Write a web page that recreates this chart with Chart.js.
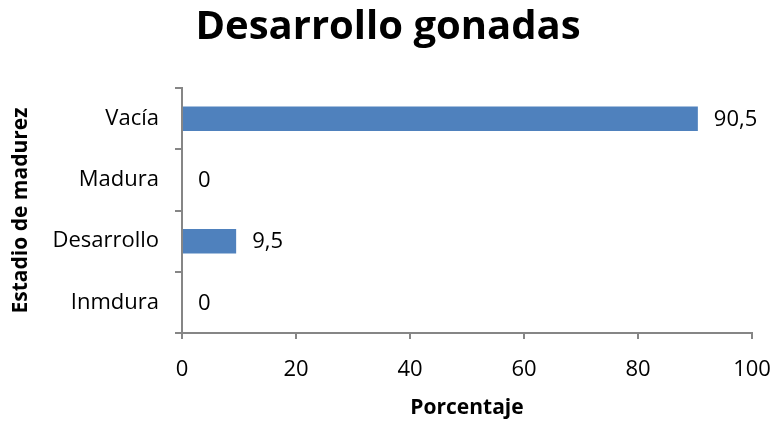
<!DOCTYPE html>
<html>
<head>
<meta charset="utf-8">
<script src="https://cdn.jsdelivr.net/npm/chart.js@4"></script>
<style>
  body { margin: 0; background: #fff; }
  #wrap { width: 776px; height: 423px; }
</style>
</head>
<body>
<div id="wrap"><canvas id="myChart"></canvas></div>
<script>
const categories = ['Vacía', 'Madura', 'Desarrollo', 'Inmdura'];
const values = [90.5, 0, 9.5, 0];
const xTicks = [0, 20, 40, 60, 80, 100];

const FONT = '"Open Sans", "Liberation Sans", sans-serif';
const axisGray = '#868686';

// draws the value next to each bar, with a comma as decimal mark
const barLabels = {
  id: 'barLabels',
  afterDatasetsDraw(chart) {
    const ctx = chart.ctx;
    const meta = chart.getDatasetMeta(0);
    ctx.save();
    ctx.font = '22px ' + FONT;
    ctx.fillStyle = '#000';
    ctx.textAlign = 'left';
    ctx.textBaseline = 'middle';
    meta.data.forEach((bar, i) => {
      const txt = String(values[i]).replace('.', ',');
      ctx.fillText(txt, bar.x + 16, bar.y + 1);
    });
    ctx.restore();
  }
};

const ctx = document.getElementById('myChart');

new Chart(ctx, {
  type: 'bar',
  data: {
    labels: categories,
    datasets: [{
      data: values,
      backgroundColor: '#4F81BD',
      borderWidth: 0,
      barPercentage: 0.8,
      categoryPercentage: 0.5
    }]
  },
  options: {
    indexAxis: 'y',
    responsive: true,
    maintainAspectRatio: false,
    animation: false,
    layout: { padding: 0 },
    plugins: {
      legend: { display: false },
      tooltip: { enabled: false },
      title: {
        display: true,
        text: 'Desarrollo gonadas',
        color: '#000',
        font: { family: FONT, size: 40, weight: 'bold' },
        padding: { top: 4, bottom: 36 }
      }
    },
    scales: {
      x: {
        min: 0,
        max: 100,
        afterBuildTicks(axis) {
          axis.ticks = xTicks.map(v => ({ value: v }));
        },
        afterFit(axis) {
          axis.height = 90;
          axis.paddingRight = 24;
          axis.paddingLeft = 0;
        },
        grid: {
          drawOnChartArea: false,
          color: axisGray,
          tickLength: 6,
          lineWidth: 2
        },
        border: { color: axisGray, width: 2 },
        ticks: {
          color: '#000',
          padding: 18,
          font: { family: FONT, size: 22 },
          maxRotation: 0
        },
        title: {
          display: true,
          text: 'Porcentaje',
          color: '#000',
          font: { family: FONT, size: 21, weight: 'bold' },
          padding: { top: 2, bottom: 2 }
        }
      },
      y: {
        afterFit(axis) { axis.width = 182; },
        grid: {
          drawOnChartArea: false,
          color: axisGray,
          tickLength: 7,
          lineWidth: 2,
          offset: true
        },
        border: { color: axisGray, width: 2 },
        ticks: {
          color: '#000',
          padding: 16,
          font: { family: FONT, size: 22 }
        },
        title: {
          display: true,
          text: 'Estadio de madurez',
          color: '#000',
          font: { family: FONT, size: 21, weight: 'bold' },
          padding: { top: 8, bottom: 0 }
        }
      }
    }
  },
  plugins: [barLabels]
});
</script>
</body>
</html>
